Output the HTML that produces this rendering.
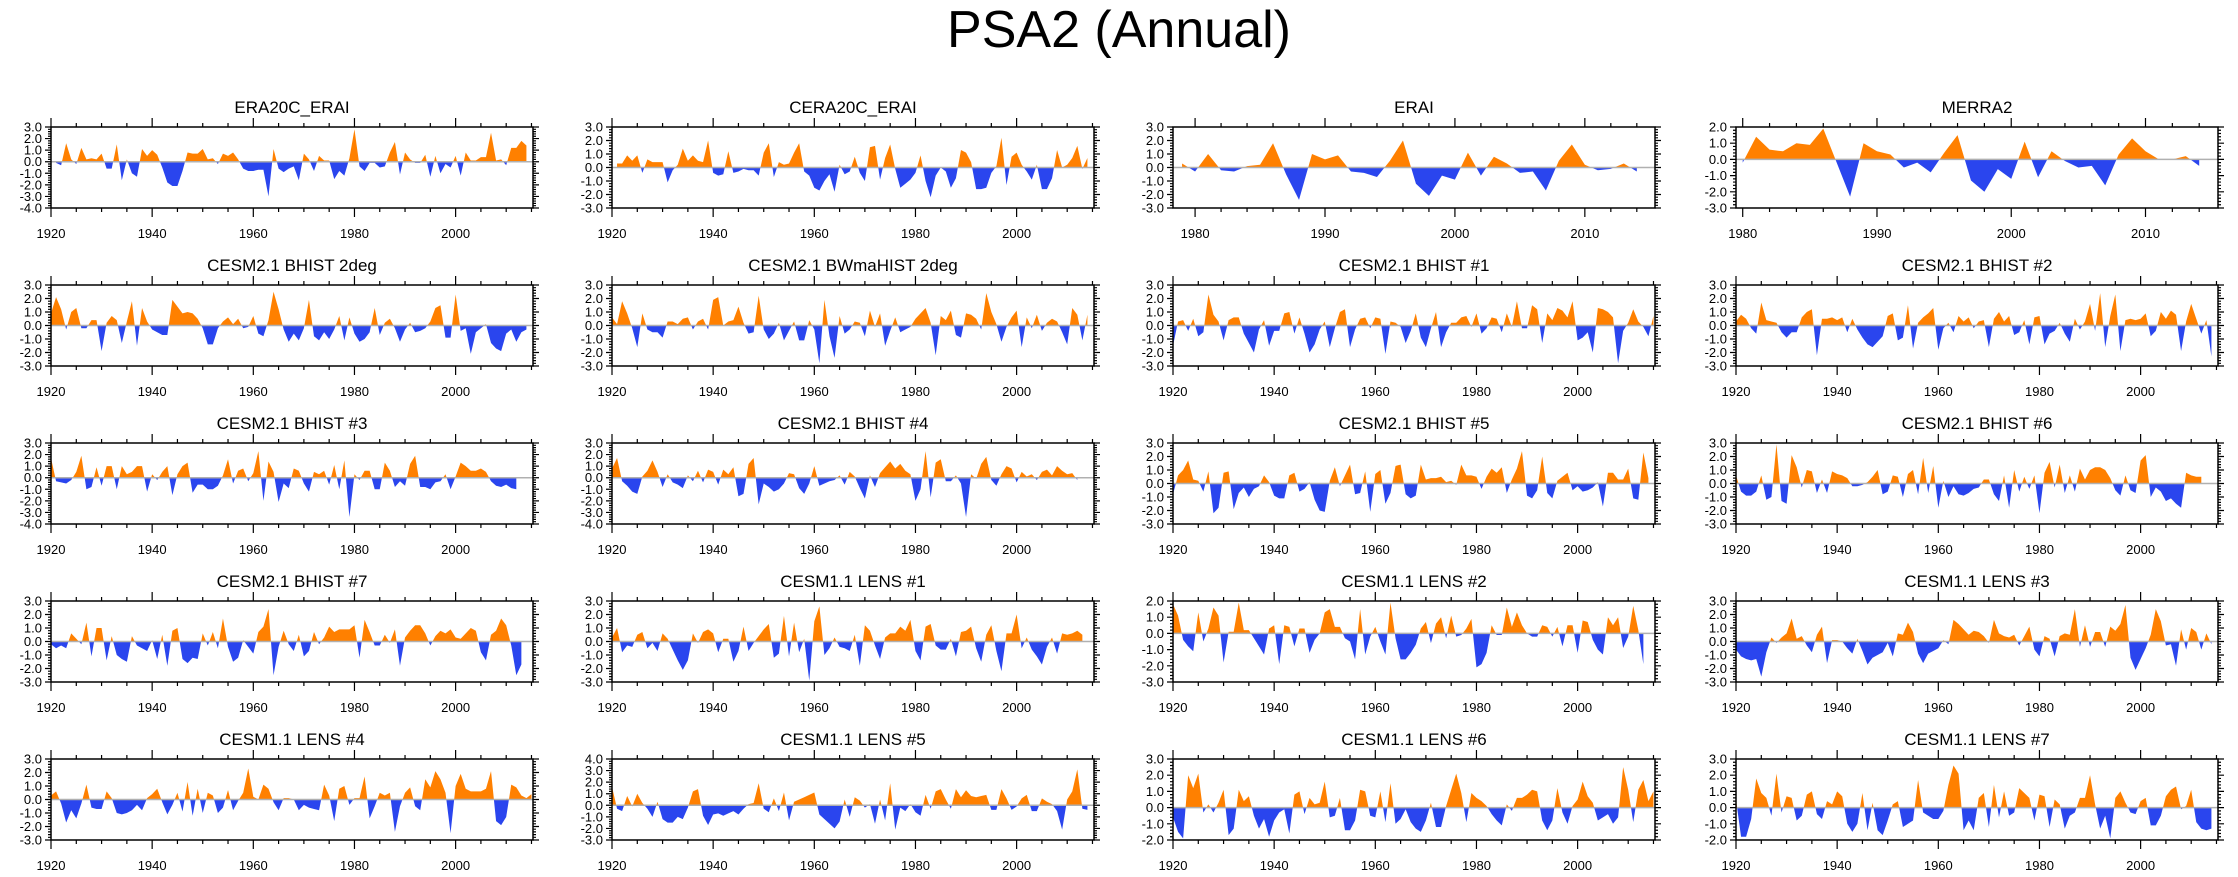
<!DOCTYPE html>
<html><head><meta charset="utf-8"><style>
html,body{margin:0;padding:0;background:#fff;}
svg{display:block;font-family:"Liberation Sans",Arial,sans-serif;}
</style></head><body>
<svg id="fig" width="2238" height="877" viewBox="0 0 2238 877" xmlns="http://www.w3.org/2000/svg">
<text x="1119" y="47" font-size="52" text-anchor="middle" fill="#000">PSA2 (Annual)</text>
</svg>
<script>
const panelTitles = ["ERA20C_ERAI","CERA20C_ERAI","ERAI","MERRA2","CESM2.1 BHIST 2deg","CESM2.1 BWmaHIST 2deg","CESM2.1 BHIST #1","CESM2.1 BHIST #2","CESM2.1 BHIST #3","CESM2.1 BHIST #4","CESM2.1 BHIST #5","CESM2.1 BHIST #6","CESM2.1 BHIST #7","CESM1.1 LENS #1","CESM1.1 LENS #2","CESM1.1 LENS #3","CESM1.1 LENS #4","CESM1.1 LENS #5","CESM1.1 LENS #6","CESM1.1 LENS #7"];
const startYears = [1921,1921,1979,1980,1920,1920,1920,1920,1920,1920,1920,1920,1920,1920,1920,1920,1920,1920,1920,1920];
const yMins = [-4,-3,-3,-3,-3,-3,-3,-3,-4,-4,-3,-3,-3,-3,-3,-3,-3,-3,-2,-2];
const yMaxs = [3,3,3,2,3,3,3,3,3,3,3,3,3,3,2,3,3,4,3,3];
const xMins = [1920,1920,1978.3,1979.5,1920,1920,1920,1920,1920,1920,1920,1920,1920,1920,1920,1920,1920,1920,1920,1920];
const xMaxs = [2015.3,2015.3,2015.4,2015.4,2015.3,2015.3,2015.3,2015.3,2015.3,2015.3,2015.3,2015.3,2015.3,2015.3,2015.3,2015.3,2015.3,2015.3,2015.3,2015.3];
const xTickLabels20 = [1920,1940,1960,1980,2000];
const xTickLabels10 = [1980,1990,2000,2010];
const yTickLabels = ["-4.0","-3.0","-2.0","-1.0","0.0","1.0","2.0","3.0","4.0"];

const sERA20C = [-0.1,-0.3,1.6,0.2,-0.2,1.2,0.2,0.3,0.2,0.7,-0.6,-0.6,1.5,-1.6,0.2,-1.0,-1.3,1.1,0.5,1.0,0.6,-0.5,-1.8,-2.1,-2.1,-0.8,0.8,0.7,0.7,1.1,0.2,0.3,-0.2,0.7,0.5,0.8,0.2,-0.6,-0.8,-0.8,-0.7,-0.7,-3.0,1.1,-0.6,-0.9,-0.6,-0.4,-1.6,0.7,0.2,-0.8,0.5,0.1,0.1,-1.5,-0.8,-1.2,0.3,2.8,-0.4,-0.8,-0.1,-0.1,-0.5,-0.4,0.8,1.7,-1.1,0.8,0.2,-0.1,-0.1,0.6,-1.3,0.5,-1.0,-0.2,-0.5,0.5,-1.2,0.8,0.1,0.1,0.4,0.4,2.5,0.1,0.2,-0.3,1.2,1.2,1.8,1.4];
const sCERA20C = [0.3,0.3,0.9,0.5,0.9,-0.4,0.6,0.4,0.4,0.4,-1.1,-0.2,0.2,1.4,0.5,0.9,0.5,0.4,2.0,-0.4,-0.6,-0.5,1.2,-0.4,-0.3,-0.1,-0.2,-0.2,-0.6,1.1,1.8,-0.7,0.4,0.2,0.3,1.1,1.8,-0.3,-0.6,-1.5,-1.7,-1.0,-0.5,-1.8,0.2,-0.5,-0.3,0.8,-0.4,-1.0,1.5,1.6,-0.9,0.7,1.7,-0.1,-1.5,-1.2,-0.9,-0.4,0.9,-1.0,-2.2,-0.6,0.0,-0.3,-1.5,-0.8,1.3,1.1,0.4,-1.6,-1.6,-1.5,-0.4,0.1,2.2,-1.3,0.8,1.1,0.2,-0.3,-0.9,0.2,-1.6,-1.6,-0.8,1.3,0.0,0.2,0.7,1.6,-0.1,0.7];
const sERAI = [0.3,-0.3,1.0,-0.2,-0.3,0.1,0.2,1.8,-0.5,-2.4,1.0,0.6,0.9,-0.3,-0.4,-0.7,0.5,2.0,-1.2,-2.1,-0.6,-0.9,1.1,-0.6,0.8,0.3,-0.4,-0.3,-1.7,0.5,1.7,0.2,-0.2,-0.1,0.3,-0.3];
const sMERRA2 = [-0.2,1.4,0.6,0.5,1.0,0.9,1.9,-0.2,-2.3,1.0,0.5,0.3,-0.5,-0.2,-0.8,0.4,1.5,-1.3,-2.0,-0.6,-1.2,1.1,-1.1,0.5,-0.1,-0.5,-0.4,-1.6,0.3,1.3,0.5,0.0,0.0,0.2,-0.4];
const sBHIST2deg = [0.9,2.1,1.2,-0.3,1.0,1.3,-0.2,-0.2,0.4,0.4,-1.9,0.2,0.7,0.4,-1.3,0.3,1.8,-1.5,1.3,0.3,-0.3,-0.5,-0.7,-0.7,1.9,1.4,0.9,1.0,0.9,0.5,-0.2,-1.4,-1.4,-0.2,0.3,0.6,0.1,0.5,-0.2,-0.1,0.7,-0.6,-0.8,0.4,2.5,1.2,-0.3,-1.2,-0.6,-1.1,-0.2,1.9,-0.8,-1.1,-0.5,-1.0,-0.3,0.7,-1.1,0.6,-0.6,-1.2,-1.0,-0.5,1.3,-0.7,0.2,0.5,-0.2,-1.2,-0.3,0.2,-0.5,-0.4,-0.2,0.3,1.3,1.5,-0.9,-0.9,2.3,-0.4,-0.2,-2.1,-0.5,-0.2,0.1,-1.3,-1.7,-1.9,-0.6,-0.3,-1.2,-0.5,-0.3];
const sBWmaHIST = [0.6,0.1,1.8,0.9,-0.2,-1.6,0.9,-0.3,-0.5,-0.5,-0.9,0.3,0.3,0.1,0.5,0.6,-0.3,0.3,0.5,-0.3,1.9,2.1,0.0,0.3,0.4,1.4,0.2,-0.6,-0.5,2.2,-0.3,-1.0,-0.6,0.2,-1.1,-0.4,0.3,-1.1,-1.1,0.4,-0.3,-2.8,1.9,-0.8,-2.4,0.7,-0.6,-0.3,0.3,0.2,-0.8,1.1,-0.1,0.9,-1.5,-0.4,0.6,-0.5,-0.3,-0.1,0.5,0.9,1.3,0.2,-2.2,0.7,0.4,1.1,-0.7,-0.9,0.9,0.8,0.5,-0.3,2.4,1.0,0.1,-1.2,-0.1,0.6,1.1,-1.6,0.6,-0.2,0.8,-0.4,0.2,0.5,0.3,-0.5,-1.4,1.3,0.8,-1.1,0.8];
const sBHIST1 = [-1.5,0.3,0.4,-0.4,0.5,-0.8,-0.5,2.3,0.8,0.3,-1.1,0.4,0.6,0.6,-0.6,-1.3,-2.0,-0.3,0.4,-1.5,-0.4,-0.4,0.9,1.0,-0.6,0.6,-0.6,-2.0,-1.4,-0.3,0.3,-1.6,-0.2,1.0,1.2,-1.6,-0.3,0.5,0.6,-0.2,0.6,0.5,-2.1,0.3,0.2,-0.1,-1.3,-0.4,0.9,-0.9,-1.6,-0.2,1.0,-1.6,-0.5,0.2,0.2,0.6,0.7,-0.1,0.9,-0.6,-0.2,0.6,0.5,-0.5,0.9,-0.1,1.8,-0.2,-0.2,1.5,1.2,-1.3,0.9,0.4,1.3,1.1,0.6,1.8,-1.1,-0.9,-0.5,-2.0,1.3,1.2,1.0,0.6,-2.8,-0.4,0.2,1.2,0.3,-0.1,-0.8,0.7];
const sBHIST2 = [0.3,0.8,0.5,-0.2,-0.6,1.7,0.4,0.3,0.2,-0.5,-0.9,-0.5,-0.5,0.6,1.0,1.2,-2.2,0.5,0.5,0.6,0.4,0.6,-0.5,0.5,-0.3,-0.9,-1.4,-1.6,-1.2,-0.8,0.7,0.9,-1.1,-0.9,1.5,-1.7,0.2,0.6,0.9,1.3,-1.8,-0.2,0.2,-0.5,0.7,0.3,0.6,-0.2,0.3,0.4,-1.6,0.5,1.0,0.3,0.7,-0.7,-0.5,0.4,-1.4,0.6,0.7,-1.4,-0.6,-0.4,0.2,-0.6,-1.2,0.5,-0.3,0.3,1.6,-0.4,2.4,-1.6,0.7,2.3,-1.9,0.4,0.5,0.4,0.5,0.9,-0.8,-0.4,1.0,0.5,1.1,0.8,-1.9,0.3,1.6,0.5,-0.6,0.4,-2.3];
const sBHIST3 = [1.7,-0.3,-0.4,-0.5,-0.2,0.5,1.9,-1.0,-0.8,0.9,-0.7,1.0,1.0,-1.0,1.0,0.3,0.5,1.0,1.0,-1.2,0.3,-0.2,0.5,1.0,-1.5,0.3,1.0,1.3,-1.3,-0.6,-0.6,-1.0,-1.0,-0.7,0.2,1.6,-0.5,0.6,0.8,-0.3,0.4,2.3,-2.0,1.4,0.5,-2.1,-0.5,-0.9,0.8,0.6,-0.5,-1.2,0.5,0.3,0.6,-0.6,1.1,-1.0,1.5,-3.4,0.3,-0.2,0.6,0.6,-1.0,-1.0,1.3,0.6,-0.8,-0.3,-0.7,1.2,1.9,-0.8,-0.8,-1.0,-0.4,-0.3,0.3,-1.0,0.1,1.3,1.0,0.6,0.6,0.8,0.5,-0.3,-0.7,-0.8,-0.6,-0.9,-1.0];
const sBHIST4 = [0.8,1.7,-0.3,-0.7,-1.2,-1.4,0.1,0.6,1.5,0.5,-0.8,0.3,-0.4,-0.6,-0.9,0.2,-0.3,0.6,-0.4,0.7,0.5,-0.6,0.7,0.3,0.9,-1.6,-1.4,1.2,1.7,-2.3,-0.5,-0.8,-1.2,-1.0,-0.5,0.4,0.3,-0.9,-1.4,-0.5,1.0,-0.7,-0.5,-0.3,-0.2,0.2,-0.6,0.5,0.1,-0.9,-1.8,0.2,-0.8,0.4,0.9,1.4,0.8,1.2,0.6,0.3,-2.0,-1.0,2.3,-1.7,1.3,1.6,-0.3,-0.3,0.2,-0.5,-3.4,0.3,-0.1,1.2,1.8,-0.2,-0.7,0.3,1.0,0.8,-0.4,0.5,0.1,0.3,-0.2,0.5,0.7,0.2,1.0,0.6,0.3,0.4,-0.2];
const sBHIST5 = [-0.8,0.6,1.0,1.7,0.3,0.2,-0.6,0.9,-2.2,-1.8,0.8,0.9,-1.9,-0.7,-0.3,-1.0,-0.4,-0.2,0.6,0.1,-0.9,-1.1,-1.1,0.6,0.8,-0.6,-0.4,0.1,-1.2,-2.0,-2.1,0.2,1.2,-0.2,0.6,1.4,-0.8,-0.7,0.9,-2.1,0.7,1.0,-1.5,-0.7,1.3,1.4,-0.8,-1.1,-0.9,1.4,0.3,0.4,0.4,0.5,0.1,0.2,-0.1,1.4,0.6,0.6,0.5,-0.4,0.5,1.1,0.8,1.2,-0.7,0.3,1.1,2.4,-0.9,-1.1,-0.5,2.0,-0.7,-1.1,0.2,0.5,0.8,-0.5,-0.2,-0.6,-0.5,-0.3,0.1,-1.7,0.8,0.8,0.3,0.3,1.1,-1.1,-1.2,2.3,0.4];
const sBHIST6 = [0.6,-0.6,-0.9,-0.9,-0.6,0.6,-1.2,-1.0,2.9,-1.3,-1.5,2.1,1.2,-0.3,1.0,0.9,-0.7,0.3,-0.7,0.9,0.7,0.6,0.4,-0.2,-0.2,-0.1,0.1,0.5,1.0,-0.8,-0.6,0.6,0.5,-1.0,0.7,1.0,-0.8,1.9,-0.7,1.3,-1.8,0.2,-1.0,-0.2,-0.8,-0.9,-0.7,-0.4,-0.3,0.3,0.3,-0.8,-1.3,0.6,-1.8,1.0,-0.6,0.5,-0.4,0.6,-2.2,0.8,1.6,-0.3,1.4,-0.7,0.6,-0.6,1.1,0.3,1.0,1.2,1.2,1.0,0.4,-0.5,-0.9,0.6,-0.5,-0.7,1.7,2.1,-1.0,-0.3,-0.6,-1.3,-1.1,-1.5,-1.8,0.8,0.6,0.5,0.5];
const sBHIST7 = [-0.2,-0.5,-0.3,-0.5,0.6,0.2,-0.2,1.4,-1.1,1.0,1.0,-1.4,0.4,-1.0,-1.3,-1.5,0.4,-0.3,-0.5,-0.7,0.1,-1.3,0.5,-1.8,0.8,1.0,-1.3,-1.6,-1.2,-1.3,0.6,-0.3,0.7,-0.5,1.7,-0.4,-1.5,-1.2,0.1,-0.4,-0.9,0.7,1.1,2.4,-2.5,-0.4,0.8,-0.2,-0.7,0.5,-1.1,-0.7,0.7,-0.2,0.3,1.1,0.7,0.9,0.9,0.9,1.2,-1.2,1.6,0.7,-0.3,-0.3,0.5,-0.1,0.9,-1.8,0.3,0.8,1.2,1.2,0.6,-0.3,0.4,0.8,0.6,0.9,0.3,0.2,0.6,1.0,0.8,-0.8,-1.4,0.5,0.8,1.7,1.2,-0.3,-2.5,-1.7];
const sLENS1 = [0.3,1.0,-0.8,-0.3,-0.4,0.5,0.7,-0.5,-0.1,-0.7,0.6,0.2,-0.6,-1.4,-2.1,-1.4,0.6,-0.1,0.7,0.9,0.6,-0.8,0.2,0.2,-1.5,-0.7,1.1,-0.7,-0.1,0.4,0.9,1.3,-1.2,-0.9,1.9,-1.1,1.4,-0.8,0.2,-2.9,1.5,2.6,-1.0,-0.5,0.3,-0.4,-0.5,-0.7,0.5,-1.8,1.2,0.8,-0.3,-1.3,0.3,0.6,0.6,1.1,0.8,1.6,-0.7,-1.4,1.1,1.3,-0.3,-0.6,-0.6,0.2,-1.1,0.7,0.8,1.1,-0.5,-1.5,0.5,1.2,-0.7,-2.2,0.6,0.6,2.0,-0.5,0.3,-0.6,-1.1,-1.7,-0.4,0.3,-0.9,0.6,0.5,0.6,0.8,0.5];
const sLENS2 = [1.8,1.1,-0.4,-0.8,-1.1,1.3,-0.5,0.3,1.6,1.1,-1.8,0.1,0.1,1.9,0.2,0.2,-0.3,-0.8,-1.3,0.3,0.5,-1.9,0.5,0.4,-0.8,0.3,0.3,-1.2,-0.4,0.0,1.3,1.5,0.4,0.4,-0.3,-0.5,-1.6,1.5,-1.3,-0.2,0.4,-0.5,-1.3,1.9,-0.3,-1.6,-1.6,-1.2,-0.7,0.3,0.7,-0.6,0.6,1.0,-0.3,1.1,-0.2,-0.1,0.3,0.9,-2.1,-1.9,-1.2,0.5,-0.1,-0.1,1.6,0.4,1.3,0.5,0.0,-0.2,-0.2,0.5,0.4,-0.2,0.4,-0.8,0.5,0.5,-1.2,0.8,0.7,-0.4,-1.0,-1.3,1.0,0.5,1.0,-0.9,-0.2,1.7,0.2,-1.9];
const sLENS3 = [-0.6,-1.1,-1.3,-1.4,-1.3,-2.6,-0.8,0.3,-0.1,0.3,0.6,1.7,0.2,0.4,-0.3,-0.8,0.5,1.1,-1.6,0.1,0.1,0.0,-0.5,-0.9,0.2,-0.7,-1.7,-1.2,-1.0,-0.8,-0.1,-1.1,0.6,0.5,1.4,0.7,-0.9,-1.6,-0.9,-0.7,-0.5,0.1,-0.2,1.6,1.3,0.9,0.5,0.8,0.7,0.4,-0.1,1.6,0.6,0.4,0.3,0.5,-0.3,0.4,1.1,-0.6,-1.1,0.4,0.2,-1.1,0.4,0.6,0.5,2.4,-0.4,1.2,-0.4,0.7,0.7,-0.4,1.1,0.8,1.3,2.7,-1.2,-2.1,-1.3,-0.5,0.5,2.4,1.5,-0.3,-0.2,-1.8,0.9,-0.6,1.0,0.7,-0.6,0.6,-0.2];
const sLENS4 = [0.3,0.6,-0.3,-1.7,-0.8,-1.4,-0.3,1.1,-0.6,-0.7,-0.7,0.6,0.1,-1.0,-1.1,-1.0,-0.8,-0.4,-0.8,0.1,0.4,0.8,-0.2,-1.1,-0.4,0.5,-0.9,1.3,-1.2,0.8,-1.0,0.5,0.3,-1.0,-0.6,0.7,-0.8,-0.1,0.5,2.3,0.2,0.0,1.1,0.8,-0.2,-0.8,0.1,0.1,0.0,-0.8,-0.4,-0.6,-0.7,-0.8,1.1,0.3,-1.6,0.8,1.0,-0.4,0.1,0.1,1.7,-1.4,-0.5,0.5,0.3,0.5,-2.4,-0.5,0.5,0.9,-0.5,-0.8,1.5,0.9,2.1,1.5,0.5,-2.5,1.0,1.9,0.8,0.6,0.6,0.6,0.8,2.1,-1.6,-1.9,-1.3,1.1,0.9,0.3,0.1,0.4];
const sLENS5 = [1.6,-0.3,-0.5,0.8,-0.1,1.0,0.2,-0.3,-1.0,0.3,-1.2,-1.5,-1.5,-1.0,-1.2,-0.2,1.2,1.4,-0.9,-1.7,-0.8,-0.7,-0.9,-0.7,-0.5,-0.8,-0.3,0.1,0.2,1.9,-0.3,-0.6,0.6,-0.5,1.1,-1.3,0.3,0.5,0.7,0.9,1.1,-0.8,-1.2,-1.6,-2.0,-1.4,0.5,-1.0,0.7,0.4,-0.2,0.1,-1.6,0.5,-1.3,1.9,-2.1,-0.2,-0.5,0.1,-0.6,-0.9,0.9,-0.3,1.2,1.4,0.5,-0.3,1.4,0.7,1.3,0.8,0.7,0.8,0.9,-0.4,-0.4,1.4,0.6,-0.4,-0.1,0.6,0.9,-0.5,-0.5,0.6,0.3,0.1,-0.5,-2.1,0.5,1.2,3.1,-0.3,-0.4];
const sLENS6 = [-0.6,-1.5,-1.9,2.0,1.2,2.1,-0.3,0.2,-0.3,0.3,1.1,-1.7,-1.3,1.1,0.4,0.7,-0.5,-1.3,-0.7,-1.8,-0.8,-0.3,-0.1,-1.6,0.8,1.0,-0.4,0.6,0.2,0.3,1.6,-0.6,-0.5,0.6,-1.4,-1.4,-0.8,1.1,1.0,-0.5,-0.6,1.0,-0.9,1.5,-1.0,-0.7,-0.1,-0.9,-1.3,-1.5,-0.8,0.3,-1.2,-1.2,0.1,1.1,2.1,0.9,-0.9,0.9,0.6,0.4,0.1,-0.4,-0.8,-1.1,0.2,-0.2,0.6,0.6,0.8,1.1,1.0,-0.8,-1.4,-0.8,1.2,-0.3,-1.0,0.1,0.5,1.6,0.7,0.3,-0.8,-0.6,-0.4,-1.0,-0.6,2.5,1.1,-0.9,1.1,1.7,0.4,1.0];
const sLENS7 = [0.5,-1.8,-1.8,-0.7,1.8,0.9,0.6,-0.5,2.1,-0.3,0.7,0.6,-0.8,-0.5,0.8,1.0,-0.4,-0.7,0.4,0.2,1.0,0.7,-1.0,-1.5,-1.0,0.9,-1.4,0.3,-1.4,-1.7,-0.8,0.2,0.4,-1.2,-1.0,-0.8,1.7,-0.3,-0.5,-0.7,-0.7,-0.2,1.4,2.6,2.1,-1.4,-0.8,-1.4,0.6,0.9,-1.2,1.4,-0.6,1.0,-0.5,-0.3,1.2,0.9,0.6,-0.8,0.8,0.7,-1.2,0.5,0.2,-1.3,-0.5,-0.3,0.6,0.6,2.0,0.2,-1.3,-0.5,-1.9,0.6,1.0,0.3,-0.3,-0.4,0.4,0.6,-1.1,-1.1,-0.5,0.7,1.1,1.3,-0.1,0.1,1.1,-0.9,-1.3,-1.4,-1.3];

const seriesList = [sERA20C,sCERA20C,sERAI,sMERRA2,sBHIST2deg,sBWmaHIST,sBHIST1,sBHIST2,sBHIST3,sBHIST4,sBHIST5,sBHIST6,sBHIST7,sLENS1,sLENS2,sLENS3,sLENS4,sLENS5,sLENS6,sLENS7];

const NS = "http://www.w3.org/2000/svg";
const svg = document.getElementById('fig');
const colLeft = [51,612,1173,1736], W = 482, H = 81, rowTop0 = 127, rowStep = 158;
function mk(tag, attrs, parent){ const e=document.createElementNS(NS,tag); for(const k in attrs) e.setAttribute(k,attrs[k]); (parent||svg).appendChild(e); return e; }

for (let p=0;p<20;p++){
  const c=p%4, r=Math.floor(p/4);
  const L=colLeft[c], T=rowTop0+r*rowStep, R=L+W, B=T+H;
  const x0=xMins[p], x1=xMaxs[p], y0=yMins[p], y1=yMaxs[p];
  const sx=v=>L+(v-x0)/(x1-x0)*W;
  const sy=v=>B-(v-y0)/(y1-y0)*H;
  const g=mk('g',{});
  
  
  const t=mk('text',{x:(L+R)/2,y:T-14,'font-size':17,'text-anchor':'middle',fill:'#000'},g);
  t.textContent=panelTitles[p];
  
  
  const cp=mk('clipPath',{id:'cp'+p},g); mk('rect',{x:L,y:T,width:W,height:H},cp);
  const vals=seriesList[p], yr0=startYears[p];
  const pts=[];
  for(let i=0;i<vals.length;i++){
    const yr=yr0+i, v=vals[i];
    if(i>0){ const pv=vals[i-1]; if((pv>0&&v<0)||(pv<0&&v>0)){ const f=pv/(pv-v); pts.push([yr-1+f,0]); } }
    pts.push([yr,v]);
  }
  const first=pts[0][0], last=pts[pts.length-1][0];
  let dp='M'+sx(first)+','+sy(0), dn=dp;
  pts.forEach(q=>{ dp+=' L'+sx(q[0]).toFixed(2)+','+sy(Math.max(q[1],0)).toFixed(2); dn+=' L'+sx(q[0]).toFixed(2)+','+sy(Math.min(q[1],0)).toFixed(2); });
  dp+=' L'+sx(last)+','+sy(0)+' Z'; dn+=' L'+sx(last)+','+sy(0)+' Z';
  const pa=mk('path',{d:dp,fill:'#ff8000','clip-path':'url(#cp'+p+')'},g);
  
  
  const na=mk('path',{d:dn,fill:'#2a45ee','clip-path':'url(#cp'+p+')'},g);
  
  
  const zl=mk('line',{x1:L,x2:R,y1:sy(0),y2:sy(0),stroke:'#b0b0b0','stroke-width':1.5},g);
  
  
  const fr=mk('rect',{x:L,y:T,width:W,height:H,fill:'none',stroke:'#000','stroke-width':1.5},g);
  
  
  let tk='';
  for(let v=y0; v<=y1+1e-6; v+=0.2){
    const y=sy(v); const major=Math.abs(v-Math.round(v))<1e-6; const len=major?6:3;
    tk+='M'+(L-len)+','+y+' L'+L+','+y+' M'+R+','+y+' L'+(R+len)+','+y+' ';
    if(major){
      const lab=mk('text',{x:L-9,y:y+4.5,'font-size':13,'text-anchor':'end',fill:'#000'},g);
      lab.textContent=yTickLabels[Math.round(v)+4];
      
      
    }
  }
  const short = (x0>1950);
  const majStep=short?10:20, minStep=short?2:5;
  const labs= short?xTickLabels10:xTickLabels20;
  for(let yv=Math.ceil(x0/minStep)*minStep; yv<=x1; yv+=minStep){
    const x=sx(yv); const major=(yv%majStep===0); const len=major?9:4;
    tk+='M'+x+','+(T-len)+' L'+x+','+T+' M'+x+','+B+' L'+x+','+(B+len)+' ';
  }
  labs.forEach(yv=>{
    const lab=mk('text',{x:sx(yv),y:B+30,'font-size':13,'text-anchor':'middle',fill:'#000'},g);
    lab.textContent=String(yv);
    
    
  });
  const tp=mk('path',{d:tk,stroke:'#000','stroke-width':1.2,fill:'none'},g);
  
  
}
</script>
</body></html>
